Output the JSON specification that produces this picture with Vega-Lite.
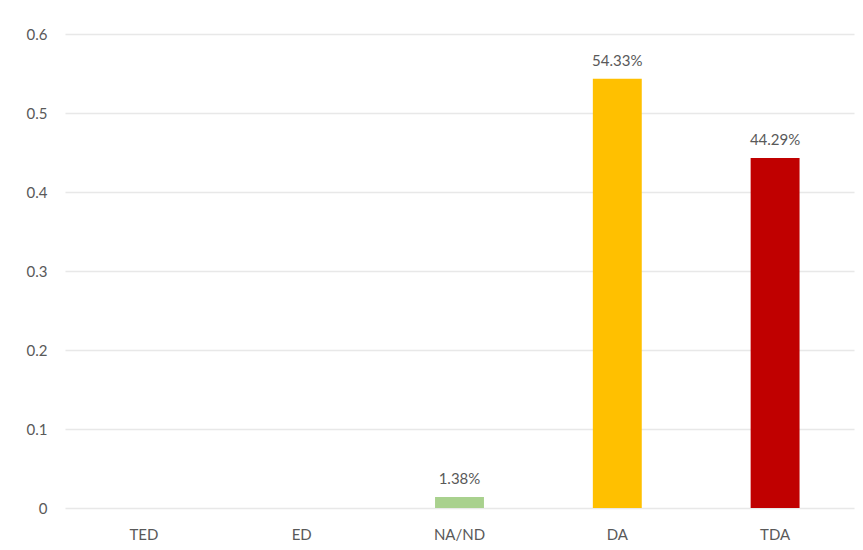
{
  "$schema": "https://vega.github.io/schema/vega-lite/v6.json",
  "width": 789,
  "height": 474,
  "autosize": "none",
  "padding": {"left": 65, "top": 34, "right": 9, "bottom": 42},
  "background": "white",
  "config": {
    "view": {"stroke": null},
    "font": "Lato",
    "axis": {"labelFont": "Lato", "labelColor": "#595959", "labelFontSize": 15}
  },
  "data": {
    "values": [
      {"category": "TED", "value": 0, "label": ""},
      {"category": "ED", "value": 0, "label": ""},
      {"category": "NA/ND", "value": 0.0138, "label": "1.38%"},
      {"category": "DA", "value": 0.5433, "label": "54.33%"},
      {"category": "TDA", "value": 0.4429, "label": "44.29%"}
    ]
  },
  "encoding": {
    "x": {
      "field": "category",
      "type": "nominal",
      "sort": null,
      "scale": {"paddingInner": 0.69, "paddingOuter": 0.345},
      "axis": {"title": null, "labelAngle": 0, "domain": false, "ticks": false, "labelPadding": 19}
    },
    "y": {
      "field": "value",
      "type": "quantitative",
      "scale": {"domain": [0, 0.6]},
      "axis": {
        "title": null,
        "values": [0, 0.1, 0.2, 0.3, 0.4, 0.5, 0.6],
        "format": ".1~f",
        "domain": false,
        "ticks": false,
        "labelPadding": 18,
        "gridColor": "#E8E8E8",
        "gridWidth": 1.3
      }
    }
  },
  "layer": [
    {
      "mark": {"type": "bar"},
      "encoding": {
        "color": {
          "field": "category",
          "type": "nominal",
          "scale": {
            "domain": ["TED", "ED", "NA/ND", "DA", "TDA"],
            "range": ["#5B9BD5", "#70AD47", "#A9D18E", "#FFC000", "#C00000"]
          },
          "legend": null
        }
      }
    },
    {
      "transform": [{"filter": "datum.value > 0"}],
      "mark": {"type": "text", "baseline": "bottom", "dy": -10, "fontSize": 15, "color": "#595959", "font": "Lato"},
      "encoding": {"text": {"field": "label"}}
    }
  ]
}
